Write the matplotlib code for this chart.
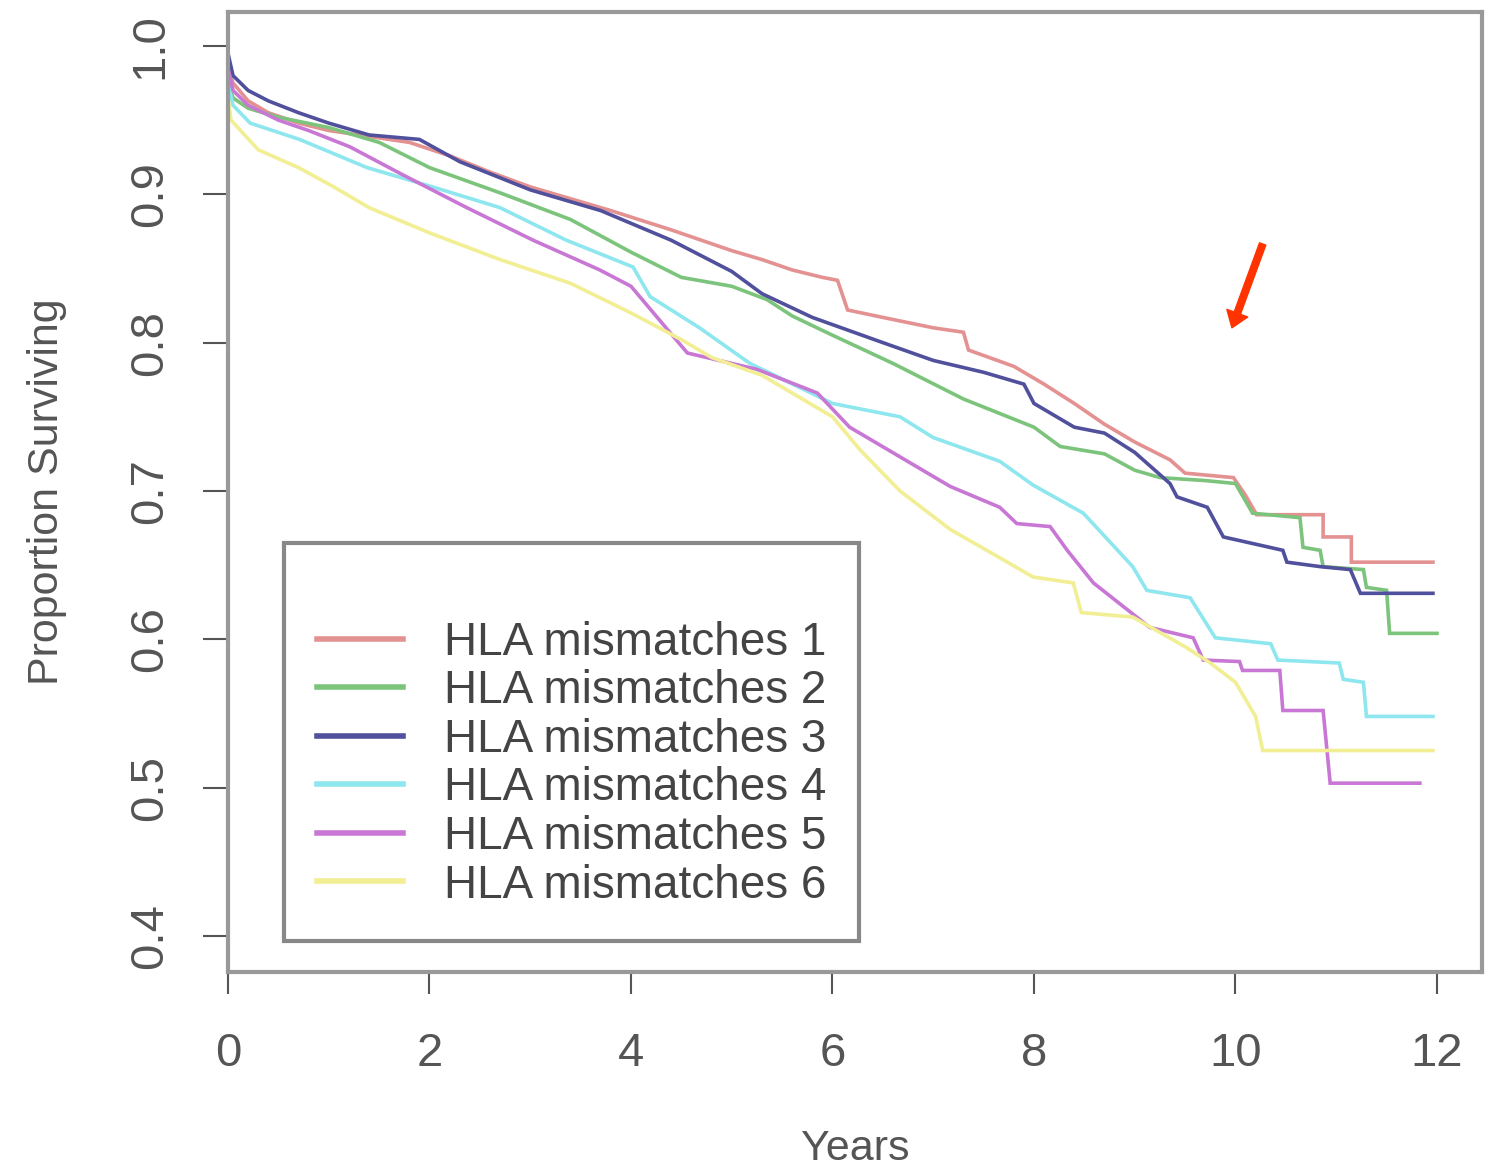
import matplotlib
matplotlib.use("Agg")
import matplotlib.pyplot as plt

plt.rcParams['font.family'] = ['Liberation Sans', 'DejaVu Sans']

# ---- data ----
labels = ["HLA mismatches 1", "HLA mismatches 2", "HLA mismatches 3",
          "HLA mismatches 4", "HLA mismatches 5", "HLA mismatches 6"]
colors = ["#e39191", "#7cc47c", "#50509c", "#8ee6ee", "#c878d4", "#f2ee94"]

t1 = [0, 0.05, 0.2, 0.4, 0.7, 1.0, 1.4, 1.8, 2.2, 2.6, 3.0, 3.4, 3.8, 4.4, 4.7,
      5.0, 5.3, 5.6, 5.9, 6.05, 6.15, 6.5, 7.0, 7.3, 7.35, 7.8, 8.1, 8.4, 8.7, 9.0,
      9.35, 9.5, 9.98, 10.1, 10.21, 10.87, 10.87, 11.15, 11.15, 11.96]
s1 = [0.985, 0.975, 0.963, 0.955, 0.948, 0.943, 0.939, 0.935, 0.926, 0.915, 0.905,
      0.897, 0.889, 0.876, 0.869, 0.862, 0.856, 0.849, 0.844, 0.842, 0.822, 0.817,
      0.810, 0.807, 0.795, 0.784, 0.772, 0.759, 0.745, 0.733, 0.721, 0.712, 0.709,
      0.697, 0.684, 0.684, 0.669, 0.669, 0.652, 0.652]

t2 = [0, 0.05, 0.2, 0.5, 1.0, 1.5, 2.0, 2.7, 3.4, 4.0, 4.5, 5.0, 5.35, 5.6, 6.0,
      6.6, 7.3, 8.0, 8.26, 8.7, 9.0, 9.25, 9.7, 10.0, 10.17, 10.64, 10.67, 10.84,
      10.87, 11.27, 11.3, 11.5, 11.53, 12.0]
s2 = [0.975, 0.965, 0.958, 0.952, 0.945, 0.935, 0.918, 0.901, 0.883, 0.861, 0.844,
      0.838, 0.829, 0.818, 0.805, 0.786, 0.762, 0.743, 0.730, 0.725, 0.714, 0.709,
      0.707, 0.705, 0.685, 0.682, 0.662, 0.660, 0.649, 0.647, 0.635, 0.633, 0.604,
      0.604]

t3 = [0, 0.05, 0.2, 0.4, 0.7, 1.0, 1.4, 1.9, 2.3, 3.0, 3.7, 4.4, 5.0, 5.3, 5.8,
      6.5, 7.0, 7.5, 7.9, 8.0, 8.4, 8.7, 9.0, 9.35, 9.42, 9.72, 9.88, 10.47, 10.51,
      10.84, 11.14, 11.24, 11.96]
s3 = [0.995, 0.980, 0.970, 0.963, 0.955, 0.948, 0.940, 0.937, 0.922, 0.903, 0.889,
      0.869, 0.848, 0.833, 0.817, 0.800, 0.788, 0.780, 0.772, 0.759, 0.743, 0.739,
      0.726, 0.705, 0.696, 0.689, 0.669, 0.660, 0.652, 0.649, 0.647, 0.631, 0.631]

t4 = [0, 0.05, 0.22, 0.71, 1.38, 2.03, 2.7, 3.36, 4.02, 4.19, 4.68, 5.18, 6.0,
      6.67, 7.0, 7.66, 7.99, 8.49, 8.98, 9.12, 9.55, 9.8, 10.35, 10.42, 11.03,
      11.07, 11.27, 11.3, 11.96]
s4 = [0.975, 0.960, 0.948, 0.937, 0.918, 0.905, 0.891, 0.869, 0.851, 0.831, 0.810,
      0.786, 0.759, 0.750, 0.736, 0.720, 0.704, 0.685, 0.649, 0.633, 0.628, 0.601,
      0.597, 0.586, 0.584, 0.573, 0.571, 0.548, 0.548]

t5 = [0, 0.05, 0.2, 0.5, 0.8, 1.21, 1.71, 2.37, 3.03, 3.69, 4.0, 4.36, 4.56, 5.25,
      5.85, 6.17, 6.67, 7.17, 7.66, 7.83, 8.16, 8.33, 8.59, 9.15, 9.58, 9.68, 10.04,
      10.07, 10.44, 10.47, 10.87, 10.94, 11.83]
s5 = [0.985, 0.970, 0.960, 0.950, 0.943, 0.932, 0.914, 0.891, 0.869, 0.849, 0.838,
      0.809, 0.793, 0.782, 0.766, 0.743, 0.723, 0.703, 0.689, 0.678, 0.676, 0.660,
      0.638, 0.608, 0.601, 0.586, 0.585, 0.579, 0.579, 0.552, 0.552, 0.503, 0.503]

t6 = [0, 0.03, 0.3, 0.7, 1.05, 1.4, 2.0, 2.7, 3.4, 4.0, 4.5, 4.8, 5.3, 6.0, 6.27,
      6.67, 7.17, 7.66, 7.99, 8.39, 8.47, 8.98, 9.5, 9.75, 10.0, 10.2, 10.27, 11.96]
s6 = [0.965, 0.950, 0.930, 0.918, 0.905, 0.891, 0.874, 0.856, 0.840, 0.820, 0.802,
      0.790, 0.778, 0.750, 0.728, 0.700, 0.674, 0.655, 0.642, 0.638, 0.618, 0.615,
      0.595, 0.584, 0.571, 0.548, 0.525, 0.525]

times = [t1, t2, t3, t4, t5, t6]
survs = [s1, s2, s3, s4, s5, s6]

x_ticks = [0, 2, 4, 6, 8, 10, 12]
y_ticks = [0.4, 0.5, 0.6, 0.7, 0.8, 0.9, 1.0]
y_ticklabels = ["0.4", "0.5", "0.6", "0.7", "0.8", "0.9", "1.0"]

# arrow annotation (tail -> head) in data units
arrow_tail = (10.27, 0.8665)
arrow_head = (9.965, 0.810)

# ---- figure ----
W, H = 1486, 1168
fig = plt.figure(figsize=(W / 100, H / 100), dpi=100)
ax = fig.add_axes([228 / W, 1 - 972 / H, (1482 - 228) / W, (972 - 12) / H])

for t, s, c, lab in zip(times, survs, colors, labels):
    ax.plot(t, s, color=c, lw=2.6, label=lab, solid_joinstyle='miter')

ax.set_xlim(0, 12.447)
ax.set_ylim(0.3757, 1.0229)

for sp in ax.spines.values():
    sp.set_color('#999999')
    sp.set_linewidth(3)

ax.set_xticks(x_ticks)
ax.set_xticklabels([str(v) for v in x_ticks])
ax.set_yticks(y_ticks)
ax.set_yticklabels(y_ticklabels)
ax.tick_params(axis='x', direction='out', length=16, width=1.5, color='#555555',
               labelsize=34, labelcolor='#555555', pad=27)
ax.tick_params(axis='y', direction='out', length=18, width=1.5, color='#555555',
               labelsize=34, labelcolor='#555555', pad=22)
for lbl in ax.get_yticklabels():
    lbl.set_rotation(90)
    lbl.set_va('center')

ax.set_xlabel('Years', fontsize=31, color='#555555')
ax.xaxis.set_label_coords(0.5, (972 - 1149) / 960)
ax.xaxis.label.set_va('center')
ax.set_ylabel('Proportion Surviving', fontsize=31, color='#555555')
ax.yaxis.set_label_coords((47 - 228) / 1254, 0.5)
ax.yaxis.label.set_va('center')

leg = ax.legend(loc='upper left', bbox_to_anchor=((284 - 228) / 1254, (972 - 543) / 960),
                borderaxespad=0, fontsize=33, handlelength=1.87, handletextpad=0.9,
                borderpad=0.72, labelspacing=0.1, fancybox=False, framealpha=1,
                edgecolor='#888888', title=' ', title_fontsize=31)
leg.get_frame().set_linewidth(3)
for txt in leg.get_texts():
    txt.set_color('#444444')
for ln in leg.get_lines():
    ln.set_linewidth(4)

ax.annotate('', xy=arrow_head, xytext=arrow_tail,
            arrowprops=dict(arrowstyle='simple,head_length=0.7,head_width=1.0,tail_width=0.3',
                            color='#ff3300', mutation_scale=16, shrinkA=0, shrinkB=0))

fig.savefig('out.png', dpi=100)
